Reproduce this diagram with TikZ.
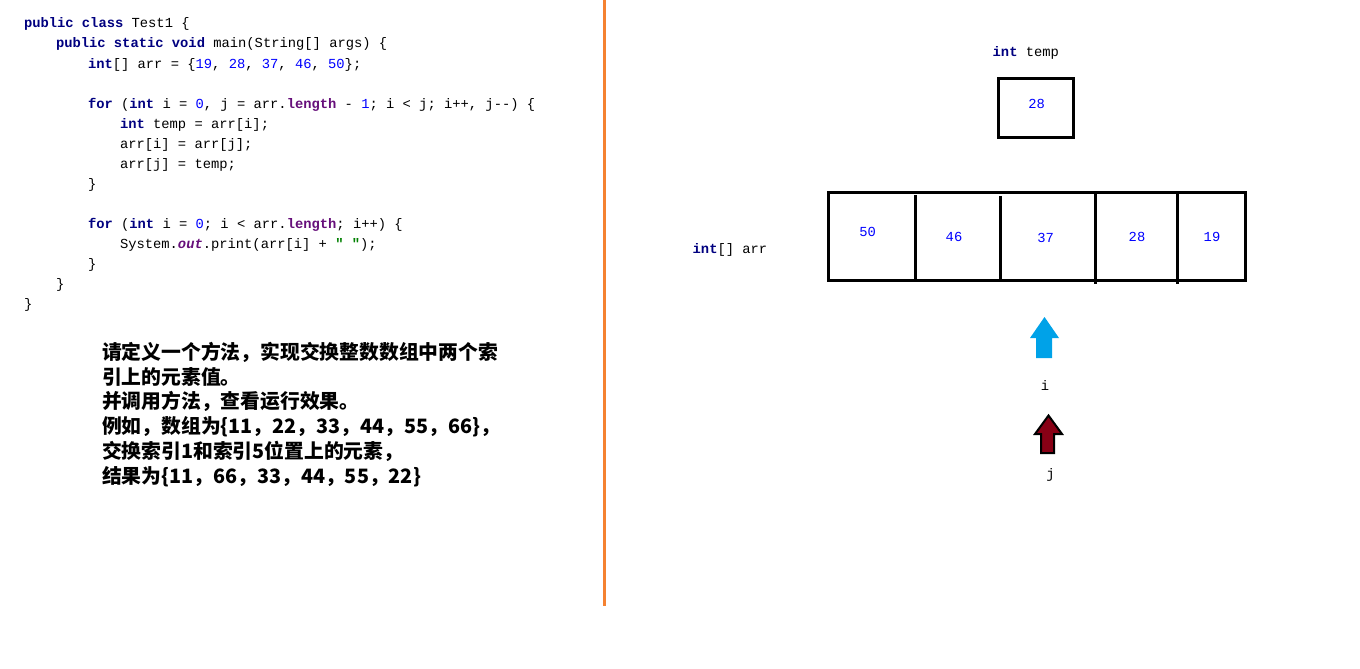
\documentclass[tikz,border=0pt]{standalone}
\usepackage{fontspec}
\newfontfamily\codefont{Liberation Mono}
\newfontfamily\taskfont{Noto Sans CJK SC}
\usetikzlibrary{positioning}

\begin{document}
\begin{tikzpicture}[x=1pt, y=-1pt,
        every node/.style={inner sep=0pt, outer sep=0pt},
        codeline/.style={anchor=base west, font={\fontsize{13.8}{20}\codefont}},
        tasktext/.style={anchor=base west, font={\fontsize{19.8}{25}\taskfont\bfseries}},
        numlabel/.style={font={\fontsize{13.8}{20}\codefont}, text=numblue},
        varlabel/.style={anchor=west, font={\fontsize{13.8}{20}\codefont}},
        % line width=3
        varbox/.style={draw=black, line width=3pt},
        divider/.style={draw=black, line width=2.8pt},]

        \definecolor{kwnavy}{RGB}{0, 0, 128}
        \definecolor{numblue}{RGB}{0, 0, 255}
        \definecolor{fieldpurple}{RGB}{102, 14, 122}
        \definecolor{strgreen}{RGB}{0, 128, 0}
        \definecolor{splitorange}{RGB}{245, 130, 49}
        \definecolor{iblue}{RGB}{0, 162, 232}
        \definecolor{jred}{RGB}{136, 0, 21}
        \newcommand\jkw[1]{\textcolor{kwnavy}{\bfseries #1}}
        \newcommand\jnum[1]{\textcolor{numblue}{#1}}
        \newcommand\jfld[1]{\textcolor{fieldpurple}{\bfseries #1}}
        \newcommand\jstr[1]{\textcolor{strgreen}{\bfseries #1}}

        \useasboundingbox [fill=white] (0,0) rectangle (1360,669);

        % code
        \node[codeline] (code1) at (24,28) {\jkw{public class} Test1 \{};
        \node[codeline] (code2) at (56,48) {\jkw{public static void} main(String[] args) \{};
        \node[codeline] (code3) at (88,68) {\jkw{int}[] arr = \{\jnum{19}, \jnum{28}, \jnum{37}, \jnum{46}, \jnum{50}\};};
        \node[codeline] (code4) at (88,108) {\jkw{for} (\jkw{int} i = \jnum{0}, j = arr.\jfld{length} - \jnum{1}; i < j; i++, j-{}-) \{};
        \node[codeline] (code5) at (120,128) {\jkw{int} temp = arr[i];};
        \node[codeline] (code6) at (120,148) {arr[i] = arr[j];};
        \node[codeline] (code7) at (120,168) {arr[j] = temp;};
        \node[codeline] (code8) at (88,188) {\}};
        \node[codeline] (code9) at (88,228) {\jkw{for} (\jkw{int} i = \jnum{0}; i < arr.\jfld{length}; i++) \{};
        \node[codeline] (code10) at (120,248) {System.\jfld{\itshape out}.print(arr[i] + \jstr{" "});};
        \node[codeline] (code11) at (88,268) {\}};
        \node[codeline] (code12) at (56,288) {\}};
        \node[codeline] (code13) at (24,308) {\}};

        % task
        \node[tasktext] (task1) at (102,359) {请定义一个方法，实现交换整数数组中两个索};
        \node[tasktext] (task2) at (102,384) {引上的元素值。};
        \node[tasktext] (task3) at (102,408) {并调用方法，查看运行效果。};
        \node[tasktext] (task4) at (102,433) {例如，数组为\{11，22，33，44，55，66\}，};
        \node[tasktext] (task5) at (102,458) {交换索引1和索引5位置上的元素，};
        \node[tasktext] (task6) at (102,483) {结果为\{11，66，33，44，55，22\}};

        \draw [line width=2.7pt, draw=splitorange] (604.3,0) -- (604.3,605.7);

        % temp
        \node[varlabel] (templabel) at (992.7,53.3) {\jkw{int} temp};
        \node[varbox, minimum width=74.6pt, minimum height=59pt] (temp) at (1036,108.2) {};
        \node[numlabel] (tempval) at (1036.7,104.3) {28};

        % arr
        \node[varlabel] (arrlabel) at (692.7,250) {\jkw{int}[] arr};
        \node[varbox, minimum width=416.5pt, minimum height=88pt] (arr) at (1036.75,236.8) {};
        \draw [divider] (915.3,195) -- (915.3,279);
        \draw [divider] (1000.3,196) -- (1000.3,282);
        \draw [divider] (1095.3,192) -- (1095.3,283.5);
        \draw [divider] (1177.3,192) -- (1177.3,283.5);
        \node[numlabel] (cell0) at (867.7,232.3) {50};
        \node[numlabel] (cell1) at (954,236.7) {46};
        \node[numlabel] (cell2) at (1045.7,237.7) {37};
        \node[numlabel] (cell3) at (1137,237.3) {28};
        \node[numlabel] (cell4) at (1212,236.7) {19};

        % i and j
        \fill [iblue] (1044.5,317) -- (1059,338) -- (1052,338) -- (1052,358) -- (1036,358) -- (1036,338) -- (1030,338) -- cycle;
        \node[numlabel, text=black] (ilabel) at (1045,385) {i};
        \filldraw [fill=jred, draw=black, line width=2pt, line join=miter] (1048.5,415.5) -- (1062,434) -- (1054,434) -- (1054,453) -- (1041,453) -- (1041,434) -- (1035,434) -- cycle;
        \node[numlabel, text=black] (jlabel) at (1050.5,475) {j};

    \end{tikzpicture}
\end{document}
